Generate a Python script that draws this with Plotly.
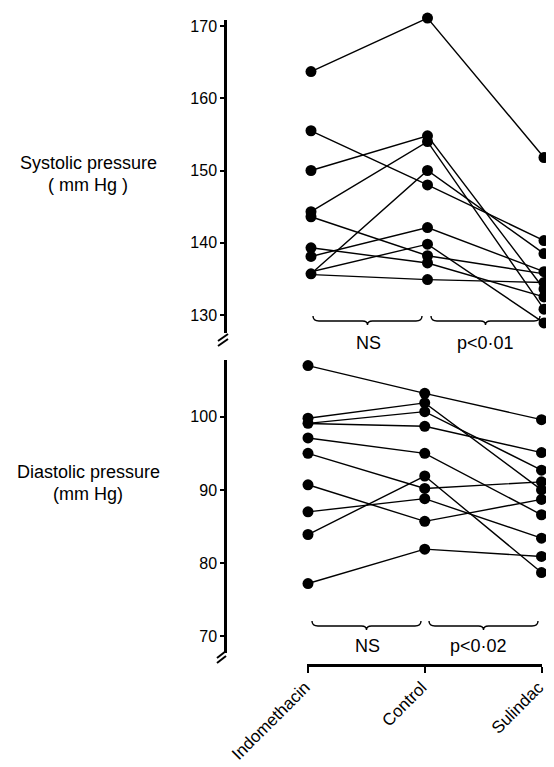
import plotly.graph_objects as go

# The page body has an 8px margin, so the figure is 8px smaller and all
# layout pixel coordinates are measured from the window origin.
OFF = 8
W, H = 554 - OFF, 767 - OFF

categories = ["Indomethacin", "Control", "Sulindac"]

# Systolic pressure (mm Hg), one entry per subject
sys_indo = [163.7, 155.5, 150.0, 144.3, 143.6, 139.3, 138.1, 135.7, 135.7, 135.7]
sys_ctrl = [171.1, 148.0, 154.8, 154.0, 138.2, 137.2, 142.1, 150.0, 139.8, 134.9]
sys_suli = [151.8, 140.3, 133.6, 130.8, 135.6, 132.5, 136.0, 138.5, 128.9, 134.5]

# Diastolic pressure (mm Hg)
dia_indo = [107.0, 99.8, 99.1, 99.1, 97.1, 95.0, 90.7, 87.0, 83.9, 77.2]
dia_ctrl = [103.2, 101.9, 100.7, 98.7, 95.0, 90.2, 85.7, 88.8, 91.9, 81.9]
dia_suli = [99.6, 90.0, 92.7, 95.1, 86.6, 91.1, 88.7, 83.4, 78.7, 80.9]

sys_ticks = [130, 140, 150, 160, 170]
dia_ticks = [70, 80, 90, 100]

# display offsets (category units) used to separate coincident points
sys_shift_indo = [0, 0, 0, 0, 0, 0, 0, 0, -0.073, -0.146]
sys_shift_suli = [0, 0, 0, 0, 0.04, 0, 0, 0, 0, 0]
dia_shift_indo = [0, 0, 0, -0.069, 0, 0, 0, 0, 0, 0]
dia_shift_suli = [0] * 10


def px(x):
    return (x - OFF) / W


def py(y):
    return 1 - (y - OFF) / H


fig = go.Figure()

marker = dict(color="black", size=11)
line = dict(color="black", width=1.4)

for i in range(len(sys_indo)):
    fig.add_trace(go.Scatter(
        x=[0 + sys_shift_indo[i], 1, 2 + sys_shift_suli[i]],
        y=[sys_indo[i], sys_ctrl[i], sys_suli[i]],
        mode="lines+markers", marker=marker, line=line,
        xaxis="x", yaxis="y", cliponaxis=False, hoverinfo="skip"))

for i in range(len(dia_indo)):
    fig.add_trace(go.Scatter(
        x=[0 + dia_shift_indo[i], 1, 2 + dia_shift_suli[i]],
        y=[dia_indo[i], dia_ctrl[i], dia_suli[i]],
        mode="lines+markers", marker=marker, line=line,
        xaxis="x2", yaxis="y2", cliponaxis=False, hoverinfo="skip"))

# empty trace so that the visible systolic axis (y3) is drawn
fig.add_trace(go.Scatter(x=[], y=[], xaxis="x", yaxis="y3", hoverinfo="skip"))

font = dict(family="Liberation Sans, Arial, sans-serif", size=16, color="black")
font_cat = dict(family="Liberation Sans, Arial, sans-serif", size=17, color="black")
font_lab = dict(family="Liberation Sans, Arial, sans-serif", size=18, color="black")

# top panel scale: category 0 at 311px, 116.5 px per category
# systolic: 170 at 26px, 7.225 px per mmHg
top_x_px = (307, 554)
top_y_px = (333, 8)
sx0, sxs = 311, 116.5
sy0, sys_ = 26, 7.225
top_xrange = [(top_x_px[0] - sx0) / sxs, (top_x_px[1] - sx0) / sxs]
top_yrange = [170 - (top_y_px[0] - sy0) / sys_, 170 - (top_y_px[1] - sy0) / sys_]
vis_yrange = [170 - (333 - sy0) / sys_, 170 - (20 - sy0) / sys_]

axis_common = dict(showline=True, linecolor="black", linewidth=2.5,
                   ticks="outside", tickwidth=2, tickcolor="black",
                   showgrid=False, zeroline=False, automargin=False)

fig.update_layout(
    width=W, height=H, autosize=False,
    margin=dict(l=0, r=0, t=0, b=0, pad=0),
    paper_bgcolor="white", plot_bgcolor="rgba(0,0,0,0)",
    showlegend=False,
    font=font,
    xaxis=dict(domain=[px(top_x_px[0]), px(top_x_px[1])], range=top_xrange,
               visible=False, anchor="y", automargin=False),
    yaxis=dict(domain=[py(top_y_px[0]), py(top_y_px[1])], range=top_yrange,
               visible=False, anchor="x", automargin=False),
    yaxis3=dict(domain=[py(333), py(20)], range=vis_yrange,
                anchor="free", position=px(225), ticklen=4,
                tickvals=sys_ticks, tickfont=font, **axis_common),
    xaxis2=dict(domain=[px(307), px(542)], range=[-0.0086, 2.0043], anchor="free",
                position=py(665), ticklen=6,
                tickvals=[0, 1, 2], ticktext=categories, tickangle=-45,
                ticklabelshift=-3, ticklabelstandoff=-2,
                tickfont=font_cat, **axis_common),
    yaxis2=dict(domain=[py(653), py(360)], range=[67.7, 107.76],
                anchor="free", position=px(225), ticklen=4,
                tickvals=dia_ticks, tickfont=font, **axis_common),
)


def brace_path(x0, x1, y, h=5):
    xm = (x0 + x1) / 2
    pts = [
        ("M", [(x0, y - h)]),
        ("Q", [(x0, y), (x0 + 6, y)]),
        ("L", [(xm - 5, y)]),
        ("Q", [(xm, y), (xm, y + 4)]),
        ("Q", [(xm, y), (xm + 5, y)]),
        ("L", [(x1 - 6, y)]),
        ("Q", [(x1, y), (x1, y - h)]),
    ]
    s = ""
    for cmd, coords in pts:
        s += cmd + " " + " ".join(f"{px(a):.5f},{py(b):.5f}" for a, b in coords) + " "
    return s.strip()


shapes = []
for (x0, x1, y) in [(313, 422, 321), (431, 540, 321), (312, 421, 626), (429, 538, 626)]:
    shapes.append(dict(type="path", xref="paper", yref="paper",
                       path=brace_path(x0, x1, y), line=dict(color="black", width=1.4)))

# axis break marks
for (xa, ya, xb, yb) in [(218, 341, 228, 334), (218, 346, 228, 339),
                         (217, 658, 226, 651), (217, 663, 226, 656)]:
    shapes.append(dict(type="line", xref="paper", yref="paper",
                       x0=px(xa), y0=py(ya), x1=px(xb), y1=py(yb),
                       line=dict(color="black", width=2)))

fig.update_layout(shapes=shapes)

ann = [
    ("NS", 368, 343), ("p<0·01", 485, 343),
    ("NS", 367, 646), ("p<0·02", 478, 646),
    ("Systolic pressure", 88, 163), ("( mm Hg )", 88, 185),
    ("Diastolic pressure", 88, 472), ("(mm Hg)", 88, 494),
]
for text, x, y in ann:
    fig.add_annotation(text=text, x=px(x), y=py(y), xref="paper", yref="paper",
                       showarrow=False, xanchor="center", yanchor="middle",
                       font=font_lab)

fig.write_html("out.html")
